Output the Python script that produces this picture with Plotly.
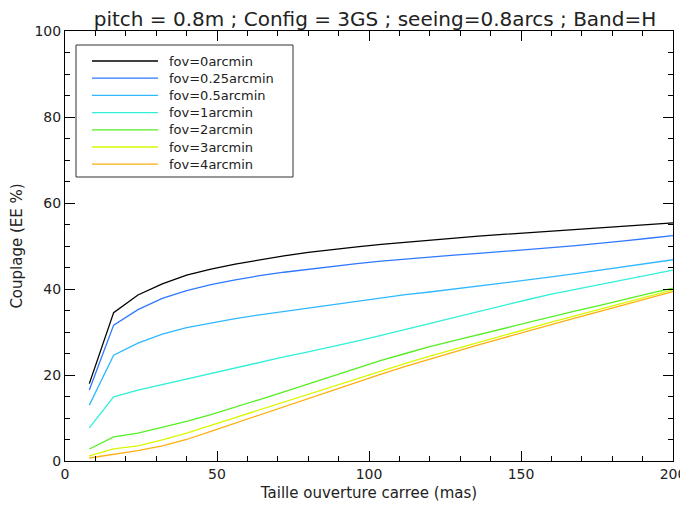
import plotly.graph_objects as go

# Data
aperture_mas = [8, 16, 24, 32, 40, 48, 56, 64, 72, 80, 88, 96, 104, 112, 120,
                128, 136, 144, 152, 160, 168, 176, 184, 192, 200]

fov_0 = [18.0, 34.5, 38.6, 41.2, 43.2, 44.6, 45.8, 46.8, 47.7, 48.5, 49.2, 49.8, 50.4,
         50.9, 51.4, 51.9, 52.3, 52.7, 53.1, 53.5, 53.9, 54.3, 54.7, 55.0, 55.4]
fov_025 = [16.5, 31.6, 35.2, 37.8, 39.6, 41.0, 42.1, 43.1, 43.9, 44.6, 45.3, 45.9, 46.5,
           47.0, 47.4, 47.9, 48.3, 48.7, 49.1, 49.6, 50.1, 50.6, 51.2, 51.8, 52.4]
fov_05 = [13.0, 24.6, 27.4, 29.5, 31.0, 32.1, 33.1, 34.0, 34.8, 35.6, 36.4, 37.2, 38.0,
          38.7, 39.3, 40.0, 40.6, 41.3, 42.0, 42.8, 43.6, 44.4, 45.2, 46.0, 46.8]
fov_1 = [7.7, 14.9, 16.5, 17.8, 19.0, 20.3, 21.6, 22.9, 24.2, 25.4, 26.6, 27.9, 29.2,
         30.6, 32.0, 33.4, 34.8, 36.2, 37.5, 38.8, 39.9, 41.0, 42.2, 43.3, 44.4]
fov_2 = [2.8, 5.6, 6.5, 7.8, 9.2, 10.8, 12.5, 14.3, 16.1, 17.9, 19.7, 21.6, 23.4,
         25.0, 26.6, 28.0, 29.4, 30.8, 32.2, 33.6, 34.9, 36.2, 37.6, 38.9, 40.2]
fov_3 = [1.2, 2.8, 3.5, 4.9, 6.5, 8.3, 10.1, 12.0, 13.8, 15.6, 17.4, 19.2, 21.0,
         22.7, 24.4, 26.0, 27.6, 29.2, 30.8, 32.3, 33.8, 35.3, 36.8, 38.3, 39.8]
fov_4 = [0.7, 1.6, 2.4, 3.5, 5.0, 6.9, 8.8, 10.8, 12.7, 14.6, 16.5, 18.4, 20.2,
         22.0, 23.7, 25.4, 27.0, 28.6, 30.2, 31.8, 33.3, 34.8, 36.3, 37.9, 39.4]

series_names = ["fov=0arcmin", "fov=0.25arcmin", "fov=0.5arcmin", "fov=1arcmin",
                "fov=2arcmin", "fov=3arcmin", "fov=4arcmin"]
series_values = [fov_0, fov_025, fov_05, fov_1, fov_2, fov_3, fov_4]
series_colors = ["#000000", "#2f78ff", "#30b8ff", "#30f0d8", "#55ee22", "#d8f800", "#ffae10"]

title_text = "pitch = 0.8m ; Config = 3GS ; seeing=0.8arcs ; Band=H"
x_title = "Taille ouverture carree (mas)"
y_title = "Couplage (EE %)"

FONT = "DejaVu Sans"
TXT = "#222222"

# The page body adds an 8 px offset; work in window coordinates and subtract it.
OFF = 8
FIG_W, FIG_H = 688 - OFF, 510 - OFF
L, R, T, B = 65, 673, 31, 461          # plot area in window pixels
W, H = R - L, B - T

def px(x):
    return (x - L) / W

def py(y):
    return (B - y) / H

fig = go.Figure()
for name, vals, col in zip(series_names, series_values, series_colors):
    fig.add_trace(go.Scatter(x=aperture_mas, y=vals, mode="lines", name=name,
                             line=dict(color=col, width=1.3), showlegend=False))

# Manual legend (box, line samples, labels) in paper coordinates
shapes = [dict(type="rect", xref="paper", yref="paper",
               x0=px(76), x1=px(293), y0=py(177), y1=py(45),
               line=dict(color="#333333", width=1), fillcolor="white", layer="above")]
annotations = []
row0 = 61
step = 17.2
for i, (name, col) in enumerate(zip(series_names, series_colors)):
    yy = row0 + i * step
    shapes.append(dict(type="line", xref="paper", yref="paper",
                       x0=px(92), x1=px(158), y0=py(yy), y1=py(yy),
                       line=dict(color=col, width=1.3), layer="above"))
    annotations.append(dict(xref="paper", yref="paper", x=px(167), y=py(yy),
                            text=name, showarrow=False, xanchor="left", yanchor="middle",
                            font=dict(family=FONT, size=13, color=TXT)))

fig.update_layout(
    width=FIG_W, height=FIG_H,
    margin=dict(l=L - OFF, r=688 - R, t=T - OFF, b=510 - B, autoexpand=False),
    paper_bgcolor="white", plot_bgcolor="white",
    title=dict(text=title_text, x=(375 - OFF) / FIG_W, xanchor="center",
               y=1 - (19 - OFF) / FIG_H, yanchor="middle", automargin=False,
               font=dict(family=FONT, size=20, color=TXT)),
    shapes=shapes, annotations=annotations,
    showlegend=False,
)

axis_common = dict(showgrid=False, zeroline=False, showline=True, linecolor="black",
                   linewidth=1, mirror="allticks", ticks="inside", tickcolor="black",
                   ticklen=10, tickwidth=1, automargin=False,
                   tickfont=dict(family=FONT, size=14, color=TXT))

fig.update_xaxes(range=[0, 200], tick0=0, dtick=50,
                 minor=dict(dtick=10, ticklen=5, ticks="inside", tickcolor="black"),
                 title=dict(text=x_title, font=dict(family=FONT, size=15, color=TXT),
                            standoff=6),
                 **axis_common)
fig.update_yaxes(range=[0, 100], tick0=0, dtick=20,
                 minor=dict(dtick=5, ticklen=5, ticks="inside", tickcolor="black"),
                 title=dict(text=y_title, font=dict(family=FONT, size=15, color=TXT),
                            standoff=10),
                 **axis_common)

fig.write_html("out.html")
